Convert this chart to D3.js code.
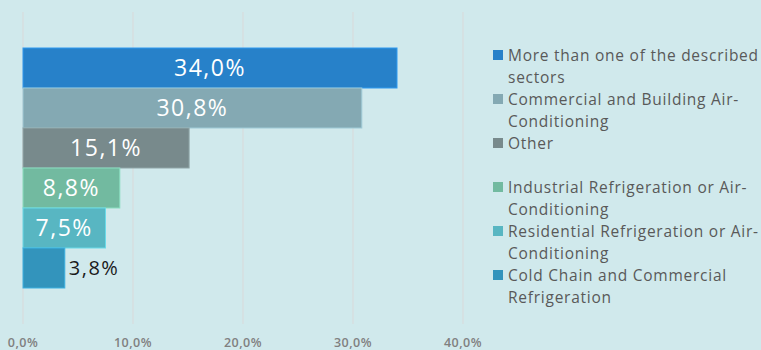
<!DOCTYPE html>
<html><head><meta charset="utf-8">
<script src="https://cdn.jsdelivr.net/npm/d3@7"></script>
<style>html,body{margin:0;padding:0;background:#D0E9EC;}svg{display:block;}</style>
</head><body>
<svg id="c" width="761" height="350"></svg>
<script>
const categories = [
  "More than one of the described sectors",
  "Commercial and Building Air-Conditioning",
  "Other",
  "Industrial Refrigeration or Air-Conditioning",
  "Residential Refrigeration or Air-Conditioning",
  "Cold Chain and Commercial Refrigeration"
];
const legendLines = [
  ["More than one of the described", "sectors"],
  ["Commercial and Building Air-", "Conditioning"],
  ["Other"],
  ["Industrial Refrigeration or Air-", "Conditioning"],
  ["Residential Refrigeration or Air-", "Conditioning"],
  ["Cold Chain and Commercial", "Refrigeration"]
];
const values = [34.0, 30.8, 15.1, 8.8, 7.5, 3.8];
const colors = ["#2781C9", "#84A9B3", "#788A8C", "#72BAA0", "#58B6C2", "#3394BC"];
const tickValues = [0, 10, 20, 30, 40];

const svg = d3.select("#c");
const fmt = v => v.toFixed(1).replace(".", ",") + "%";
const FONT = "'Open Sans', sans-serif";

const x = d3.scaleLinear().domain([0, 40]).range([23, 463]);
const y = d3.scaleBand().domain(categories).range([48, 288]).padding(0);

// gridlines
svg.append("g").selectAll("line").data(tickValues).join("line")
  .attr("x1", d => x(d)).attr("x2", d => x(d))
  .attr("y1", 12).attr("y2", 324)
  .attr("stroke", "#D9D9D9").attr("stroke-width", 1);

// axis labels
svg.append("g").selectAll("text").data(tickValues).join("text")
  .attr("x", d => x(d)).attr("y", 347)
  .attr("text-anchor", "middle")
  .attr("font-family", FONT).attr("font-size", 12.5).attr("font-weight", 600)
  .attr("letter-spacing", 0.5)
  .attr("fill", "#808080")
  .text(d => d.toFixed(1).replace(".", ",") + "%");

// bars
svg.append("g").selectAll("rect").data(values).join("rect")
  .attr("x", x(0)).attr("y", (d, i) => y(categories[i]))
  .attr("width", d => x(d) - x(0)).attr("height", y.bandwidth())
  .attr("fill", (d, i) => colors[i])
  .attr("stroke", (d, i) => d3.color(colors[i]).brighter(0.5)).attr("stroke-width", 1);

// bar labels
svg.append("g").selectAll("text").data(values).join("text")
  .attr("x", d => d < 5 ? x(d) + 4 : (x(0) + x(d)) / 2)
  .attr("y", (d, i) => y(categories[i]) + y.bandwidth() / 2)
  .attr("dy", "0.36em")
  .attr("text-anchor", d => d < 5 ? "start" : "middle")
  .attr("font-family", FONT)
  .attr("font-size", d => d < 5 ? 20 : 23)
  .attr("letter-spacing", 1.5)
  .attr("fill", d => d < 5 ? "#1a1a1a" : "#ffffff")
  .text(fmt);

// legend
const slotY = [55, 99, 143, 187, 231, 275];
const lg = svg.append("g").selectAll("g").data(legendLines).join("g")
  .attr("transform", (d, i) => `translate(493,${slotY[i]})`);
lg.append("rect").attr("x", 0).attr("y", -5).attr("width", 10).attr("height", 10)
  .attr("fill", (d, i) => colors[i]);
lg.selectAll("text").data(d => d).join("text")
  .attr("x", 15).attr("y", (d, j) => j * 22.5).attr("dy", "0.36em")
  .attr("font-family", FONT).attr("font-size", 15.5)
  .attr("letter-spacing", 0.75)
  .attr("fill", "#595959")
  .text(d => d);
</script>
</body></html>
